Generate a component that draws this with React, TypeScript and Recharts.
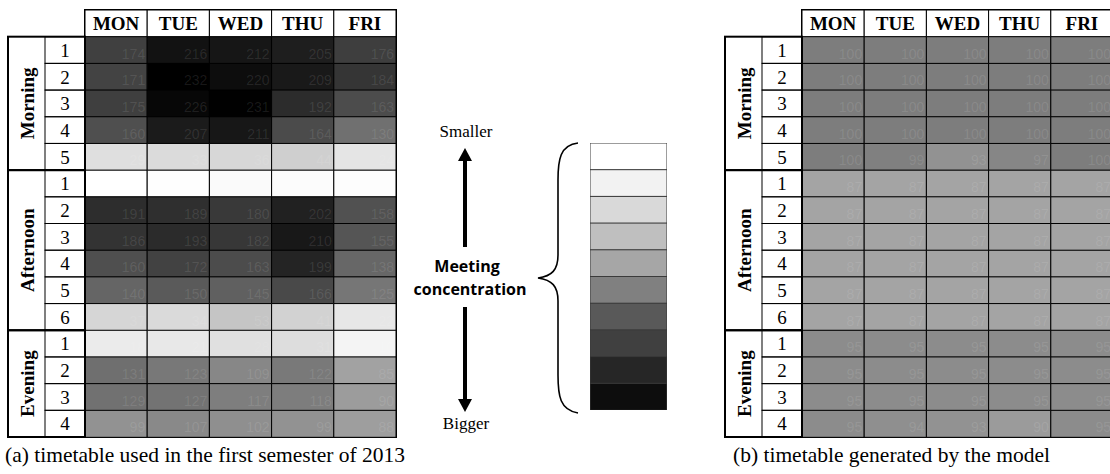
import React from 'react';
import { BarChart, Bar, XAxis, YAxis, Cell, LabelList, ReferenceArea } from 'recharts';

const days = ['MON', 'TUE', 'WED', 'THU', 'FRI'];
const sectionNames = ['Morning', 'Afternoon', 'Evening'];

// (a) timetable used in the first semester of 2013 - meetings per slot (MON..FRI)
const usedMorning = [
  [174, 216, 212, 205, 176],
  [171, 232, 220, 209, 184],
  [175, 226, 231, 192, 163],
  [160, 207, 211, 164, 130],
  [29, 33, 36, 44, 24],
];
const usedAfternoon = [
  [0, 1, 5, 3, 2],
  [191, 189, 180, 202, 158],
  [186, 193, 182, 210, 155],
  [160, 172, 163, 199, 138],
  [140, 150, 145, 166, 125],
  [37, 34, 53, 41, 22],
];
const usedEvening = [
  [18, 21, 28, 31, 10],
  [131, 123, 109, 122, 85],
  [129, 127, 117, 118, 90],
  [99, 107, 102, 99, 88],
];

// (b) timetable generated by the model
const modelMorning = [
  [100, 100, 100, 100, 100],
  [100, 100, 100, 100, 100],
  [100, 100, 100, 100, 100],
  [100, 100, 100, 100, 100],
  [100, 99, 93, 97, 100],
];
const modelAfternoon = [
  [87, 87, 87, 87, 87],
  [87, 87, 87, 87, 87],
  [87, 87, 87, 87, 87],
  [87, 87, 87, 87, 87],
  [87, 87, 87, 87, 87],
  [87, 87, 87, 87, 87],
];
const modelEvening = [
  [95, 95, 95, 95, 95],
  [95, 95, 95, 95, 95],
  [95, 95, 95, 95, 95],
  [95, 94, 93, 90, 95],
];

// legend: meeting concentration, smaller -> bigger
const legendLevels = [1, 2, 3, 4, 5, 6, 7, 8, 9, 10];
const legendShades = ['#ffffff', '#f2f2f2', '#d9d9d9', '#bfbfbf', '#a6a6a6', '#808080', '#595959', '#404040', '#262626', '#0d0d0d'];

const CHART_W = 400;
const CHART_H = 474;
const MARGIN = { top: 10, right: 4, bottom: 37, left: 8 };
const SEC_W = 37;
const NUM_W = 40;
const GRID_X = MARGIN.left + SEC_W + NUM_W;
const SERIF = '"Liberation Serif", "Times New Roman", serif';

const gray = (g: number) => {
  const c = Math.max(0, Math.min(255, Math.round(g)));
  const h = c.toString(16).padStart(2, '0');
  return `#${h}${h}${h}`;
};
const usedShade = (v: number) => gray(255 * (1 - v / 232));
const modelShade = (v: number) => gray(125 + (100 - v) * 3);

type Row = {
  key: string;
  header: boolean;
  section: number;
  period: number;
  first: boolean;
  size: number;
  values: number[];
  [day: string]: any;
};

const buildRows = (blocks: number[][][]): Row[] => {
  const rows: Row[] = [{ key: 'head', header: true, section: -1, period: 0, first: false, size: 0, values: [] }];
  blocks.forEach((block, si) =>
    block.forEach((vals, pi) =>
      rows.push({
        key: `${si}-${pi + 1}`,
        header: false,
        section: si,
        period: pi + 1,
        first: pi === 0,
        size: block.length,
        values: vals,
      })
    )
  );
  // every day takes one column unit
  return rows.map((r) => ({ ...r, ...Object.fromEntries(days.map((d) => [d, 1])) }));
};

const Timetable = ({ blocks, shade }: { blocks: number[][][]; shade: (v: number) => string }) => {
  const rows = buildRows(blocks);
  const rowH = (CHART_H - MARGIN.top - MARGIN.bottom) / rows.length;

  const renderTick = (props: any) => {
    const { y, payload } = props;
    const row = rows.find((r) => r.key === payload.value);
    if (!row || row.header) return <g />;
    const top = y - rowH / 2;
    const secH = rowH * row.size;
    const cx = MARGIN.left + SEC_W / 2 + 2;
    const cy = top + secH / 2;
    return (
      <g>
        {row.first && (
          <g>
            <rect x={MARGIN.left} y={top} width={SEC_W + NUM_W} height={secH} fill="none" stroke="#000" strokeWidth={2} />
            <text
              x={cx}
              y={cy}
              dy="0.3em"
              transform={`rotate(-90 ${cx} ${cy})`}
              textAnchor="middle"
              fontFamily={SERIF}
              fontWeight="bold"
              fontSize={19}
              fill="#000"
            >
              {sectionNames[row.section]}
            </text>
          </g>
        )}
        <rect x={GRID_X - NUM_W} y={top} width={NUM_W} height={rowH} fill="none" stroke="#000" strokeWidth={1} />
        <text x={GRID_X - NUM_W / 2} y={y} dy="0.36em" textAnchor="middle" fontFamily={SERIF} fontSize={19} fill="#000">
          {row.period}
        </text>
      </g>
    );
  };

  const renderValue = (di: number) => (props: any) => {
    const vb = props.viewBox || props;
    const { x, y, width, height } = vb;
    const idx = Math.round((y - MARGIN.top) / rowH);
    const row = rows[idx];
    if (!row) return null;
    if (row.header) {
      return (
        <text x={x + width / 2} y={y + height / 2} dy="0.36em" textAnchor="middle" fontFamily={SERIF} fontWeight="bold" fontSize={19} fill="#000">
          {days[di]}
        </text>
      );
    }
    return (
      <text
        x={x + width - 2}
        y={y + height - 5}
        textAnchor="end"
        fontFamily='"Liberation Sans Narrow", "Arial Narrow", sans-serif'
        fontSize={14}
        fill="#ffffff"
        fillOpacity={0.1}
      >
        {row.values[di]}
      </text>
    );
  };

  const sectionRanges = sectionNames.map((_, si) => {
    const sr = rows.filter((r) => r.section === si);
    return [sr[0].key, sr[sr.length - 1].key];
  });

  return (
    <BarChart width={CHART_W} height={CHART_H} data={rows} layout="vertical" margin={MARGIN} barCategoryGap={0} barGap={0}>
      <XAxis type="number" domain={[0, 5]} hide />
      <YAxis
        type="category"
        dataKey="key"
        width={SEC_W + NUM_W}
        tick={renderTick}
        tickLine={false}
        axisLine={false}
        interval={0}
      />
      {days.map((d, di) => (
        <Bar key={d} dataKey={d} stackId="grid" isAnimationActive={false}>
          {rows.map((r, ri) => (
            <Cell key={ri} fill={r.header ? '#ffffff' : shade(r.values[di])} stroke="#000" strokeWidth={1} />
          ))}
          <LabelList content={renderValue(di)} />
        </Bar>
      ))}
      <ReferenceArea y1="head" y2="head" fill="none" stroke="#000" strokeWidth={2} />
      {sectionRanges.map(([a, b]) => (
        <ReferenceArea key={a} y1={a} y2={b} fill="none" stroke="#000" strokeWidth={2} />
      ))}
    </BarChart>
  );
};

const legendData = legendLevels.map((level) => ({ level, span: 1 }));

const ShadeLegend = () => (
  <BarChart width={77} height={267} data={legendData} layout="vertical" margin={{ top: 0, right: 0, bottom: 0, left: 0 }} barCategoryGap={0}>
    <XAxis type="number" domain={[0, 1]} hide />
    <YAxis type="category" dataKey="level" hide />
    <Bar dataKey="span" isAnimationActive={false}>
      {legendData.map((d, i) => (
        <Cell key={d.level} fill={legendShades[i]} stroke="#3a3a3a" strokeWidth={1} />
      ))}
    </Bar>
  </BarChart>
);

export default function App() {
  return (
    <div style={{ position: 'absolute', left: 0, top: 0, width: 1110, height: 474, overflow: 'hidden', background: '#fff' }}>
      <div style={{ position: 'absolute', left: 0, top: 0 }}>
        <Timetable blocks={[usedMorning, usedAfternoon, usedEvening]} shade={usedShade} />
      </div>
      <div style={{ position: 'absolute', left: 717, top: 0 }}>
        <Timetable blocks={[modelMorning, modelAfternoon, modelEvening]} shade={modelShade} />
      </div>
      <div style={{ position: 'absolute', left: 590, top: 143 }}>
        <ShadeLegend />
      </div>
      <svg width={1110} height={474} style={{ position: 'absolute', left: 0, top: 0, pointerEvents: 'none' }}>
        <text x={466} y={137} textAnchor="middle" fontFamily={SERIF} fontSize={17} fill="#000">Smaller</text>
        <line x1={465} y1={158} x2={465} y2={247} stroke="#000" strokeWidth={4} />
        <polygon points="465,148 458,161 472,161" fill="#000" />
        <text x={467} y={272} textAnchor="middle" fontFamily='"Open Sans", sans-serif' fontWeight="bold" fontSize={16} fill="#000">Meeting</text>
        <text x={470} y={295} textAnchor="middle" fontFamily='"Open Sans", sans-serif' fontWeight="bold" fontSize={16} fill="#000">concentration</text>
        <line x1={465} y1={307} x2={465} y2={400} stroke="#000" strokeWidth={4} />
        <polygon points="465,412 458,399 472,399" fill="#000" />
        <text x={466} y={429} textAnchor="middle" fontFamily={SERIF} fontSize={17} fill="#000">Bigger</text>
        <path
          d="M578,143 C560,145 558,160 558,180 L558,255 C558,270 552,276 538,278 C552,280 558,286 558,301 L558,375 C558,396 560,410 578,413"
          fill="none"
          stroke="#000"
          strokeWidth={1.6}
        />
        <text x={5} y={462} fontFamily={SERIF} fontSize={21.5} fill="#000">(a) timetable used in the first semester of 2013</text>
        <text x={733} y={462} fontFamily={SERIF} fontSize={21.5} fill="#000">(b) timetable generated by the model</text>
      </svg>
    </div>
  );
}
